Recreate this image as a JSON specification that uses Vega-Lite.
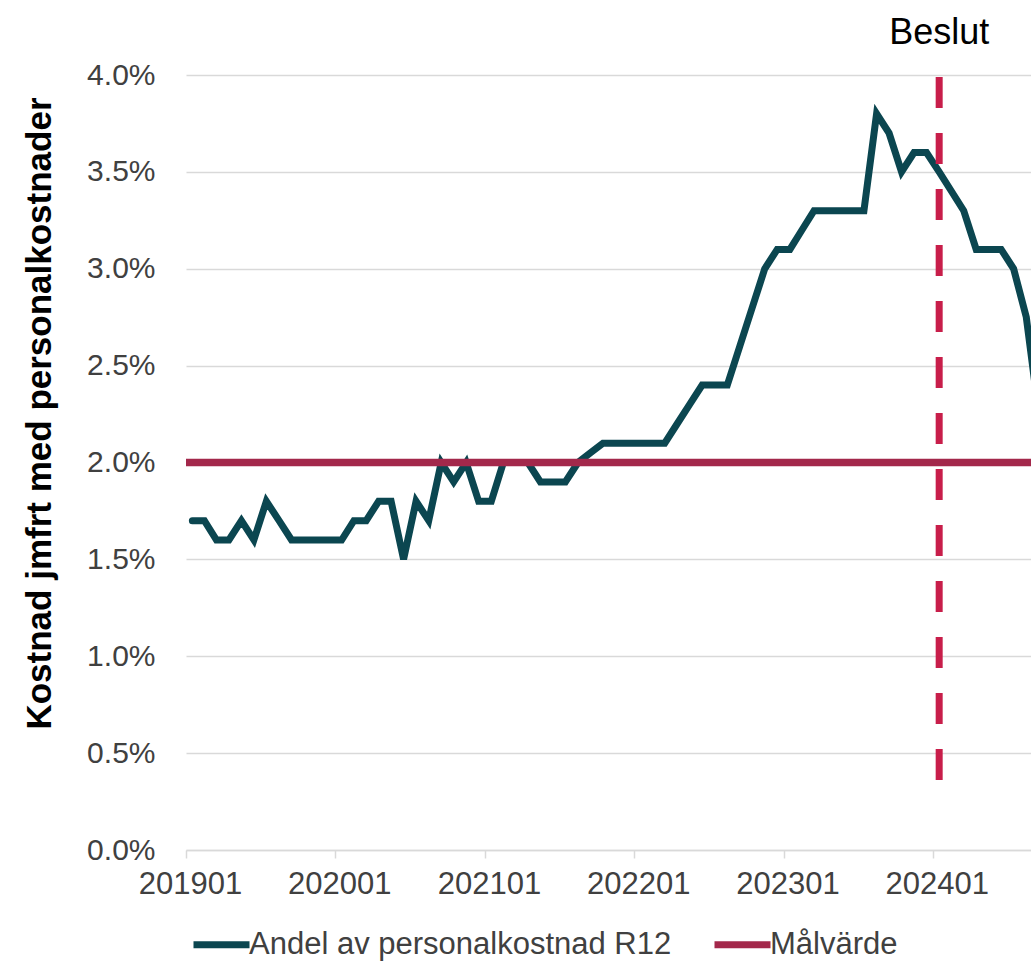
{
  "$schema": "https://vega.github.io/schema/vega-lite/v6.json",
  "width": 845,
  "height": 775,
  "autosize": {"type": "none"},
  "padding": {"left": 186, "top": 75, "right": 0, "bottom": 115},
  "background": "white",
  "config": {"view": {"stroke": null}, "font": "Liberation Sans"},
  "datasets": {
    "andel": [
      {"month": "2019-01", "serie": "Andel av personalkostnad R12", "andel": 0.017},
      {"month": "2019-02", "serie": "Andel av personalkostnad R12", "andel": 0.017},
      {"month": "2019-03", "serie": "Andel av personalkostnad R12", "andel": 0.016},
      {"month": "2019-04", "serie": "Andel av personalkostnad R12", "andel": 0.016},
      {"month": "2019-05", "serie": "Andel av personalkostnad R12", "andel": 0.017},
      {"month": "2019-06", "serie": "Andel av personalkostnad R12", "andel": 0.016},
      {"month": "2019-07", "serie": "Andel av personalkostnad R12", "andel": 0.018},
      {"month": "2019-08", "serie": "Andel av personalkostnad R12", "andel": 0.017},
      {"month": "2019-09", "serie": "Andel av personalkostnad R12", "andel": 0.016},
      {"month": "2019-10", "serie": "Andel av personalkostnad R12", "andel": 0.016},
      {"month": "2019-11", "serie": "Andel av personalkostnad R12", "andel": 0.016},
      {"month": "2019-12", "serie": "Andel av personalkostnad R12", "andel": 0.016},
      {"month": "2020-01", "serie": "Andel av personalkostnad R12", "andel": 0.016},
      {"month": "2020-02", "serie": "Andel av personalkostnad R12", "andel": 0.017},
      {"month": "2020-03", "serie": "Andel av personalkostnad R12", "andel": 0.017},
      {"month": "2020-04", "serie": "Andel av personalkostnad R12", "andel": 0.018},
      {"month": "2020-05", "serie": "Andel av personalkostnad R12", "andel": 0.018},
      {"month": "2020-06", "serie": "Andel av personalkostnad R12", "andel": 0.015},
      {"month": "2020-07", "serie": "Andel av personalkostnad R12", "andel": 0.018},
      {"month": "2020-08", "serie": "Andel av personalkostnad R12", "andel": 0.017},
      {"month": "2020-09", "serie": "Andel av personalkostnad R12", "andel": 0.020},
      {"month": "2020-10", "serie": "Andel av personalkostnad R12", "andel": 0.019},
      {"month": "2020-11", "serie": "Andel av personalkostnad R12", "andel": 0.020},
      {"month": "2020-12", "serie": "Andel av personalkostnad R12", "andel": 0.018},
      {"month": "2021-01", "serie": "Andel av personalkostnad R12", "andel": 0.018},
      {"month": "2021-02", "serie": "Andel av personalkostnad R12", "andel": 0.020},
      {"month": "2021-03", "serie": "Andel av personalkostnad R12", "andel": 0.020},
      {"month": "2021-04", "serie": "Andel av personalkostnad R12", "andel": 0.020},
      {"month": "2021-05", "serie": "Andel av personalkostnad R12", "andel": 0.019},
      {"month": "2021-06", "serie": "Andel av personalkostnad R12", "andel": 0.019},
      {"month": "2021-07", "serie": "Andel av personalkostnad R12", "andel": 0.019},
      {"month": "2021-08", "serie": "Andel av personalkostnad R12", "andel": 0.020},
      {"month": "2021-09", "serie": "Andel av personalkostnad R12", "andel": 0.0205},
      {"month": "2021-10", "serie": "Andel av personalkostnad R12", "andel": 0.021},
      {"month": "2021-11", "serie": "Andel av personalkostnad R12", "andel": 0.021},
      {"month": "2021-12", "serie": "Andel av personalkostnad R12", "andel": 0.021},
      {"month": "2022-01", "serie": "Andel av personalkostnad R12", "andel": 0.021},
      {"month": "2022-02", "serie": "Andel av personalkostnad R12", "andel": 0.021},
      {"month": "2022-03", "serie": "Andel av personalkostnad R12", "andel": 0.021},
      {"month": "2022-04", "serie": "Andel av personalkostnad R12", "andel": 0.022},
      {"month": "2022-05", "serie": "Andel av personalkostnad R12", "andel": 0.023},
      {"month": "2022-06", "serie": "Andel av personalkostnad R12", "andel": 0.024},
      {"month": "2022-07", "serie": "Andel av personalkostnad R12", "andel": 0.024},
      {"month": "2022-08", "serie": "Andel av personalkostnad R12", "andel": 0.024},
      {"month": "2022-09", "serie": "Andel av personalkostnad R12", "andel": 0.026},
      {"month": "2022-10", "serie": "Andel av personalkostnad R12", "andel": 0.028},
      {"month": "2022-11", "serie": "Andel av personalkostnad R12", "andel": 0.030},
      {"month": "2022-12", "serie": "Andel av personalkostnad R12", "andel": 0.031},
      {"month": "2023-01", "serie": "Andel av personalkostnad R12", "andel": 0.031},
      {"month": "2023-02", "serie": "Andel av personalkostnad R12", "andel": 0.032},
      {"month": "2023-03", "serie": "Andel av personalkostnad R12", "andel": 0.033},
      {"month": "2023-04", "serie": "Andel av personalkostnad R12", "andel": 0.033},
      {"month": "2023-05", "serie": "Andel av personalkostnad R12", "andel": 0.033},
      {"month": "2023-06", "serie": "Andel av personalkostnad R12", "andel": 0.033},
      {"month": "2023-07", "serie": "Andel av personalkostnad R12", "andel": 0.033},
      {"month": "2023-08", "serie": "Andel av personalkostnad R12", "andel": 0.038},
      {"month": "2023-09", "serie": "Andel av personalkostnad R12", "andel": 0.037},
      {"month": "2023-10", "serie": "Andel av personalkostnad R12", "andel": 0.035},
      {"month": "2023-11", "serie": "Andel av personalkostnad R12", "andel": 0.036},
      {"month": "2023-12", "serie": "Andel av personalkostnad R12", "andel": 0.036},
      {"month": "2024-01", "serie": "Andel av personalkostnad R12", "andel": 0.035},
      {"month": "2024-02", "serie": "Andel av personalkostnad R12", "andel": 0.034},
      {"month": "2024-03", "serie": "Andel av personalkostnad R12", "andel": 0.033},
      {"month": "2024-04", "serie": "Andel av personalkostnad R12", "andel": 0.031},
      {"month": "2024-05", "serie": "Andel av personalkostnad R12", "andel": 0.031},
      {"month": "2024-06", "serie": "Andel av personalkostnad R12", "andel": 0.031},
      {"month": "2024-07", "serie": "Andel av personalkostnad R12", "andel": 0.030},
      {"month": "2024-08", "serie": "Andel av personalkostnad R12", "andel": 0.0275},
      {"month": "2024-09", "serie": "Andel av personalkostnad R12", "andel": 0.0225}
    ],
    "mal": [{"serie": "Målvärde", "andel": 0.02}],
    "beslut": [{"month": "2024-01", "label": "Beslut", "from": 0.0036, "to": 0.0399}]
  },
  "layer": [
    {
      "data": {"name": "andel"},
      "mark": {"type": "line", "strokeWidth": 7, "strokeCap": "round", "clip": true},
      "encoding": {
        "x": {
          "field": "month", "timeUnit": "utcyearmonth", "type": "temporal", "bandPosition": 0.5,
          "scale": {"domain": [{"year": 2019, "month": 1, "date": 1, "utc": true}, {"year": 2024, "month": 8, "date": 28, "utc": true}]},
          "axis": {
            "title": null,
            "values": [
              {"year": 2019, "month": 1, "date": 1, "utc": true},
              {"year": 2020, "month": 1, "date": 1, "utc": true},
              {"year": 2021, "month": 1, "date": 1, "utc": true},
              {"year": 2022, "month": 1, "date": 1, "utc": true},
              {"year": 2023, "month": 1, "date": 1, "utc": true},
              {"year": 2024, "month": 1, "date": 1, "utc": true}
            ],
            "format": "%Y%m",
            "grid": false,
            "domainColor": "#D9D9D9", "domainWidth": 1.5,
            "tickColor": "#D9D9D9", "tickWidth": 1.5, "tickSize": 8,
            "labelFontSize": 31, "labelColor": "#404040", "labelPadding": 11,
            "labelOffset": 4, "labelFlush": false, "labelOverlap": false
          }
        },
        "y": {
          "field": "andel", "type": "quantitative",
          "scale": {"domain": [0, 0.04], "nice": false, "zero": true},
          "axis": {
            "values": [0, 0.005, 0.01, 0.015, 0.02, 0.025, 0.03, 0.035, 0.04],
            "format": ".1%",
            "domain": false, "ticks": false, "tickSize": 0,
            "gridColor": "#D9D9D9", "gridWidth": 1.5,
            "labelFontSize": 30, "labelColor": "#404040", "labelPadding": 31,
            "title": "Kostnad jmfrt med personalkostnader",
            "titleFontSize": 35, "titleFontWeight": "bold", "titleColor": "#000000",
            "titleAngle": -90, "titleAlign": "center", "titleBaseline": "alphabetic",
            "titleX": -136, "titleY": 338
          }
        },
        "color": {
          "field": "serie", "type": "nominal",
          "scale": {"domain": ["Andel av personalkostnad R12", "Målvärde"], "range": ["#0B4650", "#A3284B"]},
          "legend": {
            "title": null, "orient": "none", "direction": "horizontal",
            "legendX": 4, "legendY": 838,
            "symbolType": "stroke", "symbolSize": 3136, "symbolStrokeWidth": 7,
            "labelFontSize": 31, "labelColor": "#404040", "labelOffset": -4,
            "columnPadding": 28, "padding": 0, "labelLimit": 600
          }
        }
      }
    },
    {
      "data": {"name": "mal"},
      "mark": {"type": "rule", "strokeWidth": 7.5},
      "encoding": {
        "y": {"field": "andel", "type": "quantitative"},
        "color": {"field": "serie", "type": "nominal"}
      }
    },
    {
      "data": {"name": "beslut"},
      "mark": {"type": "rule", "color": "#C81E4A", "strokeWidth": 7, "strokeDash": [31, 25], "strokeCap": "butt"},
      "encoding": {
        "x": {"field": "month", "timeUnit": "utcyearmonth", "type": "temporal", "bandPosition": 0.5},
        "y": {"field": "to", "type": "quantitative"},
        "y2": {"field": "from"}
      }
    },
    {
      "data": {"name": "beslut"},
      "mark": {"type": "text", "fontSize": 36, "color": "#000000", "baseline": "alphabetic", "align": "center", "dy": -33},
      "encoding": {
        "x": {"field": "month", "timeUnit": "utcyearmonth", "type": "temporal", "bandPosition": 0.5},
        "y": {"field": "to", "type": "quantitative"},
        "text": {"field": "label"}
      }
    }
  ]
}
